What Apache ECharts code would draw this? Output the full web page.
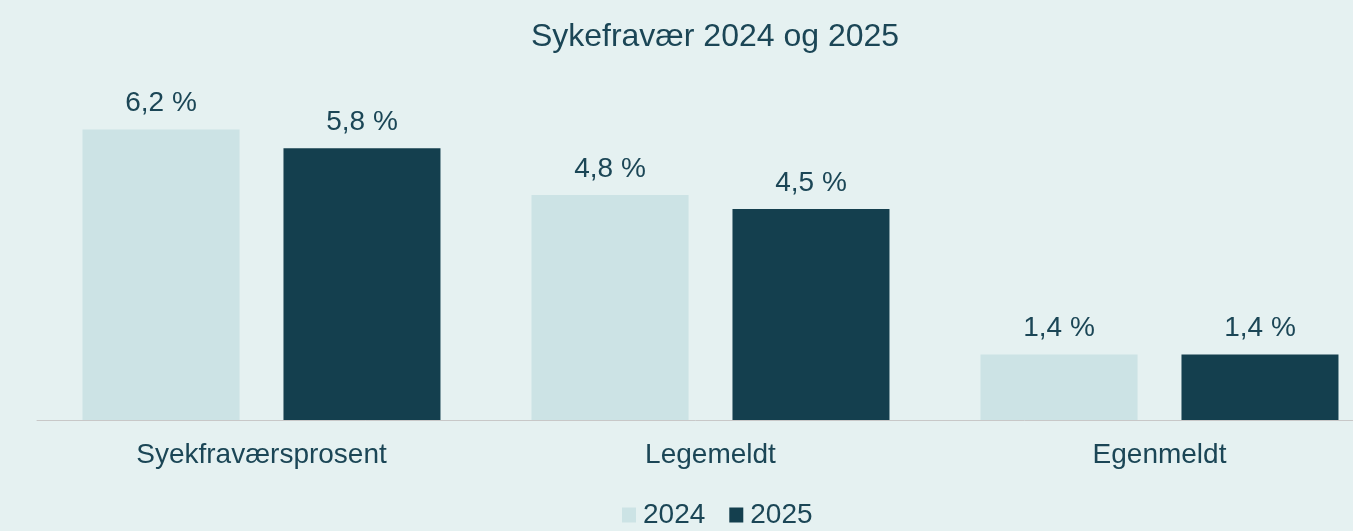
<!DOCTYPE html>
<html>
<head>
<meta charset="utf-8">
<script src="https://cdn.jsdelivr.net/npm/echarts@6/dist/echarts.min.js"></script>
<style>
html,body{margin:0;padding:0;background:#e5f1f1;overflow:hidden;}
#c{width:1353px;height:531px;}
</style>
</head>
<body>
<div id="c"></div>
<script>
const categories = ['Syekfraværsprosent', 'Legemeldt', 'Egenmeldt'];
const seriesNames = ['2024', '2025'];
const values2024 = [6.2, 4.8, 1.4];
const values2025 = [5.8, 4.5, 1.4];
const titleText = 'Sykefravær 2024 og 2025';

const textColor = '#1b4656';
const fontFamily = '"Liberation Sans", Arial, sans-serif';
const colors = ['#cce3e5', '#143f4e'];

const chart = echarts.init(document.getElementById('c'));
const labelFmt = p => p.value.toFixed(1).replace('.', ',') + ' %';
function mkSeries(name, data, i) {
  return {
    name: name, type: 'bar', data: data,
    barWidth: 157, barGap: '28%',
    itemStyle: { color: colors[i] },
    label: { show: true, position: 'top', distance: 12, formatter: labelFmt,
      color: textColor, fontSize: 28, fontFamily: fontFamily }
  };
}
chart.setOption({
  backgroundColor: '#e5f1f1',
  animation: false,
  title: { text: titleText, left: 710, textAlign: 'center', top: 16,
    textStyle: { color: textColor, fontSize: 32, fontWeight: 'normal', fontFamily: fontFamily } },
  legend: { data: seriesNames, left: 617, bottom: -3, itemWidth: 14, itemHeight: 15, itemGap: 24,
    icon: 'rect', textStyle: { color: textColor, fontSize: 28, fontFamily: fontFamily, padding: [0, 0, 0, 2] } },
  grid: { left: 37, width: 1347, top: 45, bottom: 111, containLabel: false, outerBoundsMode: 'none' },
  xAxis: { type: 'category', data: categories,
    axisLine: { lineStyle: { color: '#c8c8c8', width: 1 } }, axisTick: { show: false },
    axisLabel: { color: textColor, fontSize: 28, fontFamily: fontFamily, margin: 21 } },
  yAxis: { type: 'value', min: 0, max: 8, show: false, splitLine: { show: false } },
  series: [mkSeries(seriesNames[0], values2024, 0), mkSeries(seriesNames[1], values2025, 1)]
});
</script>
</body>
</html>
